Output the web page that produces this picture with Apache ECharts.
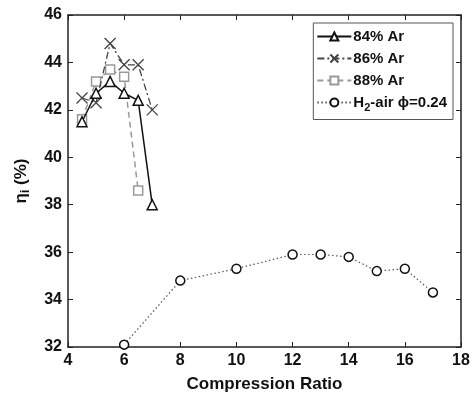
<!DOCTYPE html>
<html>
<head>
<meta charset="utf-8">
<script src="https://cdn.jsdelivr.net/npm/echarts@6/dist/echarts.min.js"></script>
<style>
  html, body { margin: 0; padding: 0; background: #fff; }
  #main { width: 475px; height: 398px; }
</style>
</head>
<body>
<div id="main"></div>
<script>
// data
const xTicks = [4, 6, 8, 10, 12, 14, 16, 18];
const yTicks = [32, 34, 36, 38, 40, 42, 44, 46];

const ar84X = [4.5, 5.0, 5.5, 6.0, 6.5, 7.0];
const ar84Y = [41.5, 42.7, 43.2, 42.7, 42.4, 38.0];

const ar86X = [4.5, 5.0, 5.5, 6.0, 6.5, 7.0];
const ar86Y = [42.5, 42.3, 44.8, 43.9, 43.9, 42.0];

const ar88X = [4.5, 5.0, 5.5, 6.0, 6.5];
const ar88Y = [41.6, 43.2, 43.7, 43.4, 38.6];

const h2X = [6, 8, 10, 12, 13, 14, 15, 16, 17];
const h2Y = [32.1, 34.8, 35.3, 35.9, 35.9, 35.8, 35.2, 35.3, 34.3];

const names = ['84% Ar', '86% Ar', '88% Ar', 'H2-air ϕ=0.24'];

function pairs(xs, ys) {
  return xs.map((x, i) => [x, ys[i]]);
}

let myChart = echarts.init(document.getElementById('main'));

const crossPath = 'path://M0,0L10,10M10,0L0,10';
const font = 'Liberation Sans, Arial, sans-serif';

let option = {
  backgroundColor: '#fff',
  animation: false,
  textStyle: { fontFamily: font },
  grid: { left: 68, right: 14, top: 15, bottom: 50 },
  legend: {
    orient: 'vertical',
    right: 22,
    top: 23,
    itemGap: 7,
    itemWidth: 34,
    itemHeight: 10,
    padding: [6, 6, 6, 3],
    backgroundColor: '#fff',
    borderColor: '#555',
    borderWidth: 1,
    data: names,
    formatter: function (n) {
      if (n.indexOf('H2') === 0) return 'H{sub|2}-air ϕ=0.24';
      return n;
    },
    textStyle: {
      fontFamily: font, fontSize: 15, fontWeight: 'bold', color: '#111',
      padding: [0, 0, 0, -3],
      rich: {
        sub: { fontSize: 11, fontWeight: 'bold', color: '#111', padding: [11, 0, 0, 0] }
      }
    }
  },
  xAxis: [{
    type: 'value', min: 4, max: 18, interval: 2,
    name: 'Compression Ratio', nameLocation: 'middle', nameGap: 29,
    nameTextStyle: { fontSize: 17, fontWeight: 'bold', color: '#111' },
    axisLine: { lineStyle: { color: '#222', width: 1.5 } },
    axisTick: { inside: true, length: 5, lineStyle: { color: '#222' } },
    axisLabel: { fontSize: 16, fontWeight: 'bold', color: '#111', margin: 6 },
    splitLine: { show: false }
  }, {
    type: 'value', min: 4, max: 18, interval: 2, position: 'top',
    axisLine: { show: true, lineStyle: { color: '#222', width: 1.5 } },
    axisTick: { inside: true, length: 5, lineStyle: { color: '#222' } },
    axisLabel: { show: false }, splitLine: { show: false }
  }],
  yAxis: [{
    type: 'value', min: 32, max: 46, interval: 2,
    name: '{b|η}{s|i}{b| (%)}', nameLocation: 'middle', nameGap: 36,
    nameTextStyle: {
      color: '#111',
      rich: {
        b: { fontSize: 17, fontWeight: 'bold', color: '#111' },
        s: { fontSize: 12, fontWeight: 'bold', color: '#111', padding: [9, 0, 0, 0] }
      }
    },
    axisLine: { lineStyle: { color: '#222', width: 1.5 } },
    axisTick: { inside: true, length: 5, lineStyle: { color: '#222' } },
    axisLabel: { fontSize: 16, fontWeight: 'bold', color: '#111', margin: 6 },
    splitLine: { show: false }
  }, {
    type: 'value', min: 32, max: 46, interval: 2, position: 'right',
    axisLine: { show: true, lineStyle: { color: '#222', width: 1.5 } },
    axisTick: { inside: true, length: 5, lineStyle: { color: '#222' } },
    axisLabel: { show: false }, splitLine: { show: false }
  }],
  series: [{
    name: names[0], type: 'line', data: pairs(ar84X, ar84Y),
    symbol: 'triangle', symbolSize: 10, showAllSymbol: true,
    lineStyle: { color: '#111', width: 1.5, type: 'solid' },
    itemStyle: { color: '#fff', borderColor: '#111', borderWidth: 1.5 },
    z: 4
  }, {
    name: names[1], type: 'line', data: pairs(ar86X, ar86Y),
    symbol: crossPath, symbolSize: 11,
    lineStyle: { color: '#444', width: 1.3, type: [7, 3, 2, 3] },
    itemStyle: { color: '#444', borderColor: '#444', borderWidth: 1.3 },
    z: 3
  }, {
    name: names[2], type: 'line', data: pairs(ar88X, ar88Y),
    symbol: 'rect', symbolSize: 9,
    lineStyle: { color: '#999', width: 1.5, type: [6, 4] },
    itemStyle: { color: '#fff', borderColor: '#999', borderWidth: 1.5 },
    z: 2
  }, {
    name: names[3], type: 'line', data: pairs(h2X, h2Y),
    symbol: 'circle', symbolSize: 9,
    lineStyle: { color: '#555', width: 1.2, type: [1.5, 2.5] },
    itemStyle: { color: '#fff', borderColor: '#111', borderWidth: 1.5 },
    z: 2
  }]
};

myChart.setOption(option);
</script>
</body>
</html>
